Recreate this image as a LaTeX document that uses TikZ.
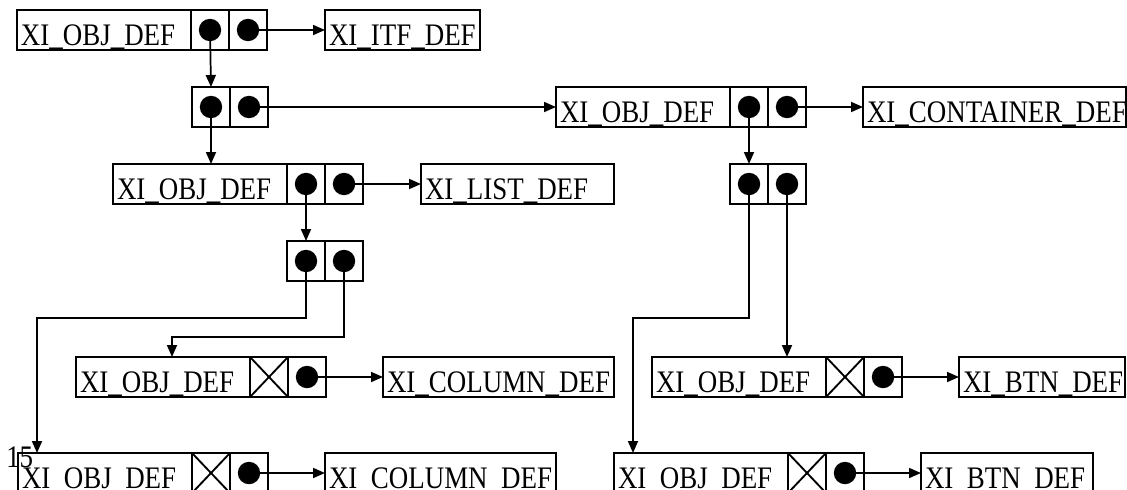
\documentclass[tikz,border=0pt]{standalone}
\usepackage{fontspec}
\setmainfont{Liberation Serif}[FakeStretch=0.86]
\usetikzlibrary{arrows.meta,positioning}
\newcommand{\recfont}{\fontsize{23.5pt}{28pt}\selectfont}
\tikzset{
  cellbase/.style={
    rectangle, draw=black, line width=1.4pt, outer sep=0pt,
    inner sep=0pt, minimum height=30pt, anchor=north west},
  namecell/.style={
    cellbase, font=\recfont, inner xsep=3pt, text width=124.5pt,
    align=left, text height=26.25pt, text depth=3.75pt},
  tgtcell/.style={
    namecell, text width=#1},
  ptrcell/.style={
    cellbase, minimum width=28.5pt,
    path picture={\fill[black] (path picture bounding box.center) circle (8.4pt);}},
  nilcell/.style={
    cellbase, minimum width=28.5pt,
    path picture={\draw[line width=1.4pt]
      (path picture bounding box.south west) -- (path picture bounding box.north east)
      (path picture bounding box.north west) -- (path picture bounding box.south east);}},
  link/.style={-{Triangle[length=9pt,width=7.5pt]}, line width=1.3pt}
}
\begin{document}
\begin{tikzpicture}[x=0.75pt, y=-0.75pt]
\useasboundingbox (0,0) rectangle (1127,489);

% first row
\node[namecell] (r1) at (17,10) {XI\_OBJ\_DEF};
\node[ptrcell, right=0pt of r1] (r1a) {};
\node[ptrcell, right=0pt of r1a] (r1b) {};
\node[tgtcell=110.25pt] (itf) at (325,10) {XI\_ITF\_DEF};

% second row
\node[ptrcell] (p1a) at (192,87) {};
\node[ptrcell, right=0pt of p1a] (p1b) {};
\node[namecell] (r2) at (556,87) {XI\_OBJ\_DEF};
\node[ptrcell, right=0pt of r2] (r2a) {};
\node[ptrcell, right=0pt of r2a] (r2b) {};
\node[tgtcell=191.25pt] (cont) at (863,87) {XI\_CONTAINER\_DEF};

% third row
\node[namecell] (r3) at (113,164) {XI\_OBJ\_DEF};
\node[ptrcell, right=0pt of r3] (r3a) {};
\node[ptrcell, right=0pt of r3a] (r3b) {};
\node[tgtcell=138.75pt] (list) at (421,164) {XI\_LIST\_DEF};
\node[ptrcell] (p2a) at (730,164) {};
\node[ptrcell, right=0pt of p2a] (p2b) {};

% list pair
\node[ptrcell] (p3a) at (287,241) {};
\node[ptrcell, right=0pt of p3a] (p3b) {};

% leaf rows
\node[namecell] (r4) at (76,357) {XI\_OBJ\_DEF};
\node[nilcell, right=0pt of r4] (r4a) {};
\node[ptrcell, right=0pt of r4a] (r4b) {};
\node[tgtcell=167.25pt] (col1) at (383,357) {XI\_COLUMN\_DEF};
\node[namecell] (r5) at (652,357) {XI\_OBJ\_DEF};
\node[nilcell, right=0pt of r5] (r5a) {};
\node[ptrcell, right=0pt of r5a] (r5b) {};
\node[tgtcell=118.5pt] (btn1) at (959,357) {XI\_BTN\_DEF};

\node[namecell] (r6) at (18,453) {XI\_OBJ\_DEF};
\node[nilcell, right=0pt of r6] (r6a) {};
\node[ptrcell, right=0pt of r6a] (r6b) {};
\node[tgtcell=167.25pt] (col2) at (325,453) {XI\_COLUMN\_DEF};
\node[namecell] (r7) at (614,453) {XI\_OBJ\_DEF};
\node[nilcell, right=0pt of r7] (r7a) {};
\node[ptrcell, right=0pt of r7a] (r7b) {};
\node[tgtcell=123pt] (btn2) at (921,453) {XI\_BTN\_DEF};

\coordinate (jA) at (37,318);
\coordinate (jB) at (172,337);
\coordinate (jC) at (633,318);

% links
\draw[link] (r1a.center) -- (p1a.north);
\draw[link] (r1b.center) -- (itf.west);
\draw[link] (p1a.center) -- (p1a.center |- r3.north);
\draw[link] (p1b.center) -- (r2.west);
\draw[link] (r2a.center) -- (p2a.north);
\draw[link] (r2b.center) -- (cont.west);
\draw[link] (r3a.center) -- (p3a.north);
\draw[link] (r3b.center) -- (list.west);
\draw[link] (p3a.center) |- (jA) -- (jA |- r6.north);
\draw[link] (p3b.center) |- (jB) -- (jB |- r4.north);
\draw[link] (p2a.center) |- (jC) -- (jC |- r7.north);
\draw[link] (p2b.center) -- (p2b.center |- r5.north);
\draw[link] (r4b.center) -- (col1.west);
\draw[link] (r5b.center) -- (btn1.west);
\draw[link] (r6b.center) -- (col2.west);
\draw[link] (r7b.center) -- (btn2.west);

\node[font=\recfont, anchor=base west, inner sep=0pt] (pgno) at (6,467) {15};
\end{tikzpicture}
\end{document}
